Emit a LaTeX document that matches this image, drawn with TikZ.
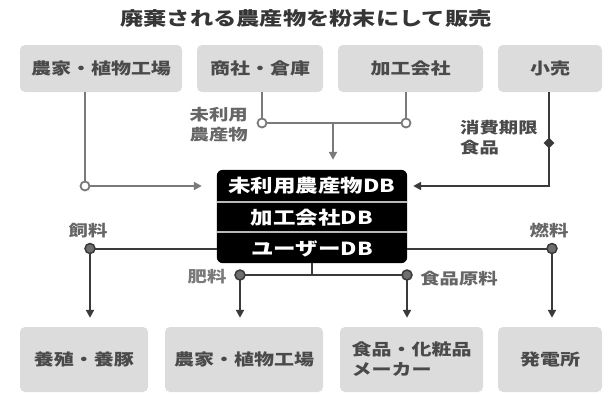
\documentclass[tikz,border=0pt]{standalone}
\usepackage{fontspec}
\setmainfont{Noto Sans CJK JP}[FakeStretch=1.25]
\usetikzlibrary{arrows.meta,shapes.geometric,backgrounds}
\definecolor{boxgray}{HTML}{DCDCDC}
\definecolor{titlegray}{HTML}{363636}
\definecolor{txtgray}{HTML}{4A4A4A}
\definecolor{lblgray}{HTML}{666666}
\definecolor{linegray}{HTML}{7A7A7A}
\definecolor{linedark}{HTML}{3A3A3A}
\definecolor{dotgray}{HTML}{6E6E6E}
\begin{document}
\begin{tikzpicture}[x=1pt,y=-1pt,
  box/.style={fill=boxgray, rounded corners=5pt, inner sep=0pt, text=txtgray,
    font=\fontsize{16}{20}\selectfont\bfseries, align=center},
  dbrow/.style={inner sep=0pt, minimum width=190, text=white,
    font=\fontsize{18}{20}\selectfont\bfseries},
  lbl/.style={inner sep=0pt, text=lblgray, font=\fontsize{15.5}{20}\selectfont\bfseries},
  gl/.style={draw=linegray, line width=2pt},
  dl/.style={draw=linedark, line width=2pt},
  garrow/.style={-{Triangle[length=8pt,width=8pt]}},
  hollow/.style={circle, draw=linegray, fill=white, line width=1.8pt, minimum size=9, inner sep=0pt},
  soliddot/.style={circle, draw=linedark, fill=dotgray, line width=1.5pt, minimum size=10, inner sep=0pt},
  blackdia/.style={diamond, fill=linedark, minimum size=11, inner sep=0pt}
]
\useasboundingbox (0,0) rectangle (611,394);

% title
\node[inner sep=0pt, text=titlegray, font=\fontsize{18.6}{22}\selectfont\bfseries] (title) at (306,18) {廃棄される農産物を粉末にして販売};

% top boxes
\node[box, minimum width=162, minimum height=47] (t1) at (101,68.5) {農家・植物工場};
\node[box, minimum width=126, minimum height=47] (t2) at (260,68.5) {商社・倉庫};
\node[box, minimum width=145, minimum height=47] (t3) at (410.5,68.5) {加工会社};
\node[box, minimum width=104, minimum height=47] (t4) at (550,68.5) {小売};

% bottom boxes
\node[box, minimum width=128, minimum height=65] (b1) at (84,359.5) {養殖・養豚};
\node[box, minimum width=158, minimum height=65] (b2) at (244,359.5) {農家・植物工場};
\node[box, minimum width=143, minimum height=65, align=left] (b3) at (411.5,359.5) {食品・化粧品\\メーカー};
\node[box, minimum width=104, minimum height=65] (b4) at (550,359.5) {発電所};

% database stack
\node[dbrow, minimum height=32] (db1) at (312,186) {未利用農産物DB};
\node[dbrow, minimum height=29] (db2) at (312,217.5) {加工会社DB};
\node[dbrow, minimum height=29] (db3) at (312,248.5) {ユーザーDB};
\begin{scope}[on background layer]
  \fill[black, rounded corners=6pt] (db1.north west) rectangle (db3.south east);
  \draw[gray!55, line width=1.5pt] (db1.south west) -- (db1.south east);
  \draw[gray!55, line width=1.5pt] (db2.south west) -- (db2.south east);
\end{scope}

% labels
\node[lbl, anchor=east, align=right] (l1) at (248,125) {未利用\\農産物};
\node[lbl, anchor=west, align=left, text=txtgray] (l2) at (460,138) {消費期限\\食品};
\node[lbl] (l3) at (88,231) {飼料};
\node[lbl] (l4) at (549,231) {燃料};
\node[lbl, text=linegray] (l5) at (207,277) {肥料};
\node[lbl] (l6) at (459,279) {食品原料};

% junction coordinates
\coordinate (c1) at (85,186);
\coordinate (c2) at (262,123);
\coordinate (c3) at (406,123);
\coordinate (c4) at (333,123);
\coordinate (c5) at (549,186);
\coordinate (c6) at (549,143);
\coordinate (f1) at (90,248.5);
\coordinate (f2) at (552,248.5);
\coordinate (f3) at (240,275);
\coordinate (f4) at (407,275);

% upper connectors
\draw[gl, garrow, shorten >=15pt] (t1.south -| c1) -- (c1) -- (c1 -| db1.west);
\draw[gl] (t2.south -| c2) -- (c2) -- (c3) -- (t3.south -| c3);
\draw[gl, garrow, shorten >=10pt] (c4) -- (c4 |- db1.north);
\draw[dl, garrow, shorten >=6pt] (t4.south -| c5) -- (c5) -- (c5 -| db1.east);

% lower connectors
\draw[dl, garrow, shorten >=9pt] (db3.west) -- (f1) -- (f1 |- b1.north);
\draw[dl, garrow, shorten >=9pt] (db3.east) -- (f2) -- (f2 |- b4.north);
\draw[dl] (db3.south) -- (db3.south |- f3);
\draw[dl] (f3) -- (f4);
\draw[dl, garrow, shorten >=9pt] (f3) -- (f3 |- b2.north);
\draw[dl, garrow, shorten >=9pt] (f4) -- (f4 |- b3.north);

% junction markers
\node[hollow] (h1) at (c1) {};
\node[hollow] (h2) at (c2) {};
\node[hollow] (h3) at (c3) {};
\node[blackdia] (d1) at (c6) {};
\node[soliddot] (s1) at (f1) {};
\node[soliddot] (s2) at (f2) {};
\node[soliddot] (s3) at (f3) {};
\node[soliddot] (s4) at (f4) {};
\end{tikzpicture}
\end{document}
